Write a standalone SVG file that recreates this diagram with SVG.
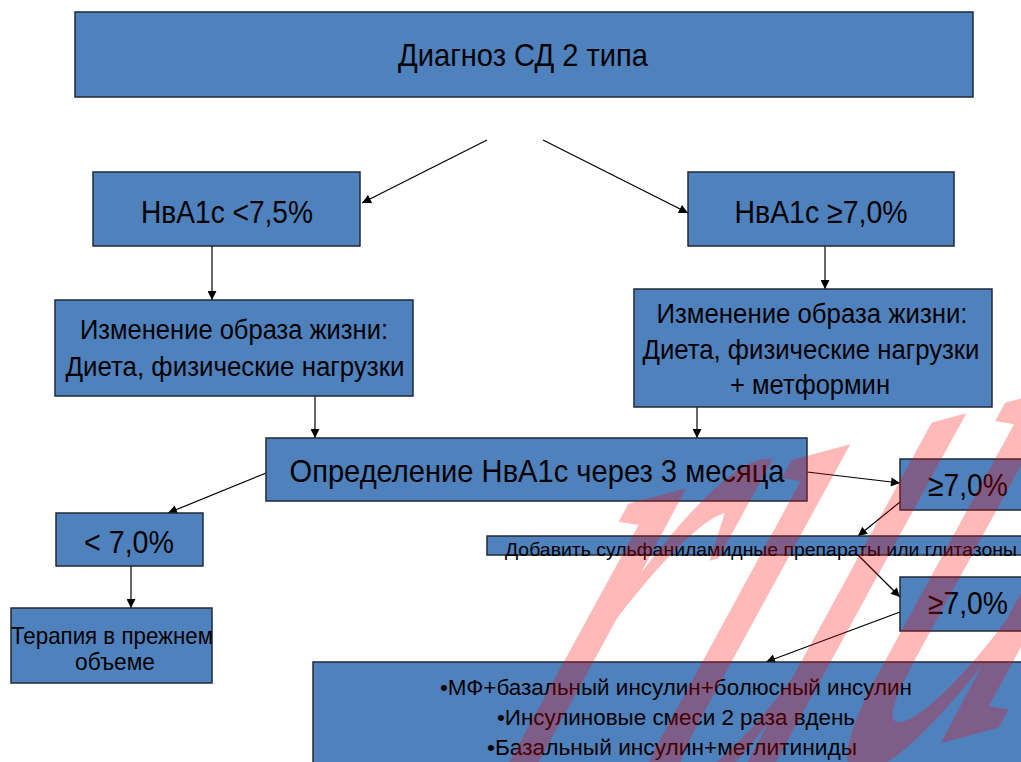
<svg xmlns="http://www.w3.org/2000/svg" width="1021" height="762" viewBox="0 0 1021 762">
  <style>
    .box { fill: #4f81bd; stroke: #1f2a38; stroke-width: 1.5; }
    .t { font-family: "Liberation Sans", Arial, sans-serif; fill: #000; text-anchor: middle; }
    .edge { stroke: #000; stroke-width: 1.2; fill: none; marker-end: url(#arrow); }
    .wm { font-family: "Liberation Serif", "DejaVu Serif", serif; font-style: italic; fill: #ff0000; opacity: 0.27; }
  </style>
  <defs>
    <marker id="arrow" viewBox="0 0 10 10" refX="10" refY="5" markerWidth="10" markerHeight="9" markerUnits="userSpaceOnUse" orient="auto">
      <path d="M0,0 L10,5 L0,10 z" fill="#000"/>
    </marker>
  </defs>
  <rect width="1021" height="762" fill="#fff"/>

  <g id="connectors">
    <line class="edge" x1="487" y1="140" x2="362" y2="203"/>
    <line class="edge" x1="543" y1="140" x2="688" y2="213"/>
    <line class="edge" x1="212" y1="246" x2="212" y2="300"/>
    <line class="edge" x1="825" y1="246" x2="825" y2="289"/>
    <line class="edge" x1="315" y1="396" x2="315" y2="438"/>
    <line class="edge" x1="697" y1="407" x2="697" y2="438"/>
    <line class="edge" x1="266" y1="473" x2="168" y2="513"/>
    <line class="edge" x1="131" y1="566" x2="131" y2="608"/>
    <line class="edge" x1="807" y1="472" x2="900" y2="483"/>
    <line class="edge" x1="900" y1="502" x2="858" y2="536"/>
    <line class="edge" x1="856" y1="553" x2="900" y2="597"/>
    <line class="edge" x1="900" y1="612" x2="766" y2="662"/>
  </g>

  <g id="diagnosis">
    <rect class="box" x="75" y="12" width="898" height="85"/>
    <text class="t" x="523" y="66" font-size="32" textLength="250" lengthAdjust="spacingAndGlyphs">Диагноз СД 2 типа</text>
  </g>

  <g id="hba1c-low">
    <rect class="box" x="93" y="172" width="267" height="74"/>
    <text class="t" x="227" y="223" font-size="31" textLength="172" lengthAdjust="spacingAndGlyphs">НвА1с &lt;7,5%</text>
  </g>

  <g id="hba1c-high">
    <rect class="box" x="688" y="172" width="266" height="74"/>
    <text class="t" x="821" y="223" font-size="31" textLength="173" lengthAdjust="spacingAndGlyphs">НвА1с ≥7,0%</text>
  </g>

  <g id="lifestyle-left">
    <rect class="box" x="55" y="300" width="358" height="96"/>
    <text class="t" x="234" y="339" font-size="27" textLength="308" lengthAdjust="spacingAndGlyphs">Изменение образа жизни:</text>
    <text class="t" x="235" y="376" font-size="27" textLength="339" lengthAdjust="spacingAndGlyphs">Диета, физические нагрузки</text>
  </g>

  <g id="lifestyle-right">
    <rect class="box" x="634" y="289" width="358" height="118"/>
    <text class="t" x="812" y="323" font-size="27" textLength="311" lengthAdjust="spacingAndGlyphs">Изменение образа жизни:</text>
    <text class="t" x="811" y="359" font-size="27" textLength="337" lengthAdjust="spacingAndGlyphs">Диета, физические нагрузки</text>
    <text class="t" x="810" y="394" font-size="27" textLength="160" lengthAdjust="spacingAndGlyphs">+ метформин</text>
  </g>

  <g id="check-3-months">
    <rect class="box" x="266" y="438" width="541" height="63"/>
    <text class="t" x="537" y="482" font-size="32" textLength="495" lengthAdjust="spacingAndGlyphs">Определение НвА1с через 3 месяца</text>
  </g>

  <g id="below-target">
    <rect class="box" x="56" y="513" width="147" height="53"/>
    <text class="t" x="129" y="553" font-size="31" textLength="90" lengthAdjust="spacingAndGlyphs">&lt; 7,0%</text>
  </g>

  <g id="above-target-1">
    <rect class="box" x="900" y="459" width="130" height="51"/>
    <text class="t" x="968" y="496" font-size="31" textLength="80" lengthAdjust="spacingAndGlyphs">≥7,0%</text>
  </g>

  <g id="add-drugs">
    <rect class="box" x="487" y="536" width="545" height="19"/>
    <text class="t" x="761" y="556" font-size="19" textLength="512" lengthAdjust="spacingAndGlyphs">Добавить сульфаниламидные препараты или глитазоны</text>
  </g>

  <g id="above-target-2">
    <rect class="box" x="900" y="577" width="130" height="54"/>
    <text class="t" x="968" y="614" font-size="31" textLength="80" lengthAdjust="spacingAndGlyphs">≥7,0%</text>
  </g>

  <g id="same-therapy">
    <rect class="box" x="11" y="608" width="201" height="75"/>
    <text class="t" x="112" y="644" font-size="24" textLength="202" lengthAdjust="spacingAndGlyphs">Терапия в прежнем</text>
    <text class="t" x="115" y="670" font-size="24" textLength="80" lengthAdjust="spacingAndGlyphs">объеме</text>
  </g>

  <g id="insulin-options">
    <rect class="box" x="313" y="662" width="726" height="110"/>
    <text class="t" x="676" y="695" font-size="22" textLength="472" lengthAdjust="spacingAndGlyphs">•МФ+базальный инсулин+болюсный инсулин</text>
    <text class="t" x="676" y="725" font-size="22" textLength="358" lengthAdjust="spacingAndGlyphs">•Инсулиновые смеси 2 раза вдень</text>
    <text class="t" x="672" y="755" font-size="22" textLength="370" lengthAdjust="spacingAndGlyphs">•Базальный инсулин+меглитиниды</text>
  </g>

  <!-- watermark lettering across the lower right -->
  <text class="wm" x="0" y="0" font-size="680" transform="translate(430 880) rotate(-15) skewX(-40) scale(0.65 1)">ruu</text>
</svg>
